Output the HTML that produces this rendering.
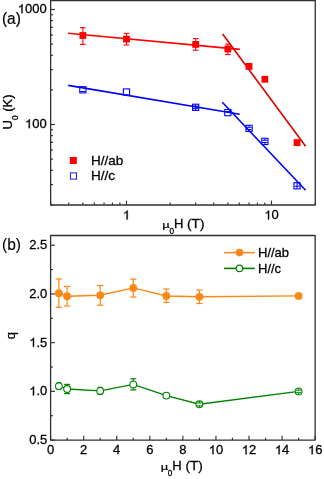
<!DOCTYPE html>
<html><head><meta charset="utf-8"><style>
html,body{margin:0;padding:0;background:#fff;}
body{width:324px;height:479px;overflow:hidden;}
svg{display:block;font-family:"Liberation Sans", sans-serif;will-change:transform;}
text{fill:#000;stroke:#000;stroke-width:0.3px;}
.h1{fill-opacity:0;stroke-opacity:0;}
</style></head><body>
<svg width="324" height="479" viewBox="0 0 324 479">
<line x1="50.65" y1="204.88" x2="53.05" y2="204.88" stroke="#303030" stroke-width="1.15" />
<line x1="50.65" y1="184.63" x2="53.05" y2="184.63" stroke="#303030" stroke-width="1.15" />
<line x1="50.65" y1="170.26" x2="53.05" y2="170.26" stroke="#303030" stroke-width="1.15" />
<line x1="50.65" y1="159.12" x2="53.05" y2="159.12" stroke="#303030" stroke-width="1.15" />
<line x1="50.65" y1="150.01" x2="53.05" y2="150.01" stroke="#303030" stroke-width="1.15" />
<line x1="50.65" y1="142.31" x2="53.05" y2="142.31" stroke="#303030" stroke-width="1.15" />
<line x1="50.65" y1="135.64" x2="53.05" y2="135.64" stroke="#303030" stroke-width="1.15" />
<line x1="50.65" y1="129.76" x2="53.05" y2="129.76" stroke="#303030" stroke-width="1.15" />
<line x1="50.65" y1="124.50" x2="54.95" y2="124.50" stroke="#303030" stroke-width="1.15" />
<line x1="50.65" y1="89.88" x2="53.05" y2="89.88" stroke="#303030" stroke-width="1.15" />
<line x1="50.65" y1="69.63" x2="53.05" y2="69.63" stroke="#303030" stroke-width="1.15" />
<line x1="50.65" y1="55.26" x2="53.05" y2="55.26" stroke="#303030" stroke-width="1.15" />
<line x1="50.65" y1="44.12" x2="53.05" y2="44.12" stroke="#303030" stroke-width="1.15" />
<line x1="50.65" y1="35.01" x2="53.05" y2="35.01" stroke="#303030" stroke-width="1.15" />
<line x1="50.65" y1="27.31" x2="53.05" y2="27.31" stroke="#303030" stroke-width="1.15" />
<line x1="50.65" y1="20.64" x2="53.05" y2="20.64" stroke="#303030" stroke-width="1.15" />
<line x1="50.65" y1="14.76" x2="53.05" y2="14.76" stroke="#303030" stroke-width="1.15" />
<line x1="50.65" y1="9.50" x2="54.95" y2="9.50" stroke="#303030" stroke-width="1.15" />
<line x1="50.68" y1="205.00" x2="50.68" y2="202.60" stroke="#303030" stroke-width="1.15" />
<line x1="68.80" y1="205.00" x2="68.80" y2="202.60" stroke="#303030" stroke-width="1.15" />
<line x1="82.85" y1="205.00" x2="82.85" y2="202.60" stroke="#303030" stroke-width="1.15" />
<line x1="94.33" y1="205.00" x2="94.33" y2="202.60" stroke="#303030" stroke-width="1.15" />
<line x1="104.04" y1="205.00" x2="104.04" y2="202.60" stroke="#303030" stroke-width="1.15" />
<line x1="112.45" y1="205.00" x2="112.45" y2="202.60" stroke="#303030" stroke-width="1.15" />
<line x1="119.87" y1="205.00" x2="119.87" y2="202.60" stroke="#303030" stroke-width="1.15" />
<line x1="126.50" y1="205.00" x2="126.50" y2="200.70" stroke="#303030" stroke-width="1.15" />
<line x1="170.15" y1="205.00" x2="170.15" y2="202.60" stroke="#303030" stroke-width="1.15" />
<line x1="195.68" y1="205.00" x2="195.68" y2="202.60" stroke="#303030" stroke-width="1.15" />
<line x1="213.80" y1="205.00" x2="213.80" y2="202.60" stroke="#303030" stroke-width="1.15" />
<line x1="227.85" y1="205.00" x2="227.85" y2="202.60" stroke="#303030" stroke-width="1.15" />
<line x1="239.33" y1="205.00" x2="239.33" y2="202.60" stroke="#303030" stroke-width="1.15" />
<line x1="249.04" y1="205.00" x2="249.04" y2="202.60" stroke="#303030" stroke-width="1.15" />
<line x1="257.45" y1="205.00" x2="257.45" y2="202.60" stroke="#303030" stroke-width="1.15" />
<line x1="264.87" y1="205.00" x2="264.87" y2="202.60" stroke="#303030" stroke-width="1.15" />
<line x1="271.50" y1="205.00" x2="271.50" y2="200.70" stroke="#303030" stroke-width="1.15" />
<line x1="315.15" y1="205.00" x2="315.15" y2="202.60" stroke="#303030" stroke-width="1.15" />
<line x1="68.00" y1="33.30" x2="239.90" y2="49.40" stroke="#ff0000" stroke-width="1.6" />
<line x1="222.60" y1="34.00" x2="305.60" y2="146.20" stroke="#dc0000" stroke-width="1.6" />
<line x1="68.20" y1="85.40" x2="239.70" y2="114.20" stroke="#0000ff" stroke-width="1.6" />
<line x1="222.30" y1="102.20" x2="305.60" y2="190.20" stroke="#0000ff" stroke-width="1.6" />
<line x1="82.85" y1="27.70" x2="82.85" y2="44.40" stroke="#ff0000" stroke-width="1.1" />
<line x1="80.05" y1="27.70" x2="85.65" y2="27.70" stroke="#ff0000" stroke-width="1.1" />
<line x1="80.05" y1="44.40" x2="85.65" y2="44.40" stroke="#ff0000" stroke-width="1.1" />
<rect x="79.45" y="32.10" width="6.8" height="6.8" fill="#ff0000"/>
<line x1="126.50" y1="33.40" x2="126.50" y2="45.00" stroke="#ff0000" stroke-width="1.1" />
<line x1="123.70" y1="33.40" x2="129.30" y2="33.40" stroke="#ff0000" stroke-width="1.1" />
<line x1="123.70" y1="45.00" x2="129.30" y2="45.00" stroke="#ff0000" stroke-width="1.1" />
<rect x="123.10" y="35.70" width="6.8" height="6.8" fill="#ff0000"/>
<line x1="195.68" y1="38.60" x2="195.68" y2="50.30" stroke="#ff0000" stroke-width="1.1" />
<line x1="192.88" y1="38.60" x2="198.48" y2="38.60" stroke="#ff0000" stroke-width="1.1" />
<line x1="192.88" y1="50.30" x2="198.48" y2="50.30" stroke="#ff0000" stroke-width="1.1" />
<rect x="192.28" y="41.00" width="6.8" height="6.8" fill="#ff0000"/>
<line x1="227.85" y1="44.10" x2="227.85" y2="54.60" stroke="#ff0000" stroke-width="1.1" />
<line x1="225.05" y1="44.10" x2="230.65" y2="44.10" stroke="#ff0000" stroke-width="1.1" />
<line x1="225.05" y1="54.60" x2="230.65" y2="54.60" stroke="#ff0000" stroke-width="1.1" />
<rect x="224.45" y="45.60" width="6.8" height="6.8" fill="#ff0000"/>
<rect x="245.64" y="63.00" width="6.8" height="6.8" fill="#ff0000"/>
<rect x="261.47" y="75.90" width="6.8" height="6.8" fill="#ff0000"/>
<rect x="293.63" y="139.20" width="6.8" height="6.8" fill="#ff0000"/>
<rect x="79.75" y="86.70" width="6.2" height="6.2" fill="none" stroke="#0000ff" stroke-width="1.1"/>
<line x1="80.25" y1="91.50" x2="85.45" y2="91.50" stroke="#0000ff" stroke-width="1.0" />
<rect x="123.40" y="88.90" width="6.2" height="6.2" fill="none" stroke="#0000ff" stroke-width="1.1"/>
<rect x="192.58" y="104.20" width="6.2" height="6.2" fill="none" stroke="#0000ff" stroke-width="1.1"/>
<line x1="195.68" y1="104.30" x2="195.68" y2="110.30" stroke="#0000ff" stroke-width="1.0" />
<line x1="193.08" y1="106.10" x2="198.28" y2="106.10" stroke="#0000ff" stroke-width="1.0" />
<line x1="193.08" y1="108.60" x2="198.28" y2="108.60" stroke="#0000ff" stroke-width="1.0" />
<rect x="224.75" y="109.50" width="6.2" height="6.2" fill="none" stroke="#0000ff" stroke-width="1.1"/>
<line x1="225.25" y1="111.60" x2="230.45" y2="111.60" stroke="#0000ff" stroke-width="1.0" />
<rect x="245.94" y="125.30" width="6.2" height="6.2" fill="none" stroke="#0000ff" stroke-width="1.1"/>
<line x1="246.44" y1="127.30" x2="251.64" y2="127.30" stroke="#0000ff" stroke-width="1.0" />
<line x1="246.44" y1="129.50" x2="251.64" y2="129.50" stroke="#0000ff" stroke-width="1.0" />
<line x1="249.04" y1="125.40" x2="249.04" y2="127.30" stroke="#0000ff" stroke-width="1.0" />
<line x1="249.04" y1="129.50" x2="249.04" y2="131.40" stroke="#0000ff" stroke-width="1.0" />
<rect x="261.77" y="138.30" width="6.2" height="6.2" fill="none" stroke="#0000ff" stroke-width="1.1"/>
<line x1="262.27" y1="140.30" x2="267.47" y2="140.30" stroke="#0000ff" stroke-width="1.0" />
<line x1="262.27" y1="142.50" x2="267.47" y2="142.50" stroke="#0000ff" stroke-width="1.0" />
<line x1="264.87" y1="138.40" x2="264.87" y2="140.30" stroke="#0000ff" stroke-width="1.0" />
<line x1="264.87" y1="142.50" x2="264.87" y2="144.40" stroke="#0000ff" stroke-width="1.0" />
<rect x="293.93" y="182.70" width="6.2" height="6.2" fill="none" stroke="#0000ff" stroke-width="1.1"/>
<line x1="294.43" y1="186.20" x2="299.63" y2="186.20" stroke="#0000ff" stroke-width="1.0" />
<line x1="297.03" y1="182.80" x2="297.03" y2="188.80" stroke="#0000ff" stroke-width="1.0" />
<rect x="69.80" y="157.00" width="7" height="7" fill="#ff0000"/>
<rect x="70.40" y="172.90" width="6.2" height="6.2" fill="none" stroke="#0000ff" stroke-width="0.9"/>
<text x="91.00" y="165.00" font-size="13.5" text-anchor="start" >H//ab</text>
<text x="91.00" y="180.20" font-size="13.5" text-anchor="start" >H//c</text>
<path d="M50.65,0.6 L315.25,0.6 L315.25,205.0 L50.65,205.0 Z" fill="none" stroke="#303030" stroke-width="1.3" stroke-linejoin="round"/>
<text id="t0" x="46.70" y="13.20" font-size="13" text-anchor="end" ><tspan class="h1">1</tspan>000</text>
<text id="t1" x="46.70" y="128.20" font-size="13" text-anchor="end" ><tspan class="h1">1</tspan>00</text>
<text id="t2" x="126.50" y="219.40" font-size="13" text-anchor="middle" ><tspan class="h1">1</tspan></text>
<text id="t3" x="271.50" y="219.40" font-size="13" text-anchor="middle" ><tspan class="h1">1</tspan>0</text>
<text transform="translate(162.30,228.20) scale(1,0.72)" font-size="13">&#181;</text>
<text x="169.40" y="233.60" font-size="8.2">0</text>
<text x="173.90" y="228.20" font-size="13">H</text>
<text x="187.10" y="228.20" font-size="13.6">(T)</text>
<text transform="translate(12.4,129.4) rotate(-90)" font-size="13">U<tspan font-size="8.2" dy="5.3">0</tspan><tspan dy="-5.3"> (K)</tspan></text>
<text transform="translate(1.9,23.9) scale(1,1.06)" font-size="15.5" style="stroke-width:0.2px">(a)</text>
<line x1="50.60" y1="440.05" x2="54.90" y2="440.05" stroke="#303030" stroke-width="1.15" />
<line x1="50.60" y1="415.70" x2="53.00" y2="415.70" stroke="#303030" stroke-width="1.15" />
<line x1="50.60" y1="391.35" x2="54.90" y2="391.35" stroke="#303030" stroke-width="1.15" />
<line x1="50.60" y1="367.00" x2="53.00" y2="367.00" stroke="#303030" stroke-width="1.15" />
<line x1="50.60" y1="342.65" x2="54.90" y2="342.65" stroke="#303030" stroke-width="1.15" />
<line x1="50.60" y1="318.29" x2="53.00" y2="318.29" stroke="#303030" stroke-width="1.15" />
<line x1="50.60" y1="293.94" x2="54.90" y2="293.94" stroke="#303030" stroke-width="1.15" />
<line x1="50.60" y1="269.59" x2="53.00" y2="269.59" stroke="#303030" stroke-width="1.15" />
<line x1="50.60" y1="245.24" x2="54.90" y2="245.24" stroke="#303030" stroke-width="1.15" />
<line x1="50.60" y1="440.05" x2="50.60" y2="435.75" stroke="#303030" stroke-width="1.15" />
<line x1="67.13" y1="440.05" x2="67.13" y2="437.65" stroke="#303030" stroke-width="1.15" />
<line x1="83.67" y1="440.05" x2="83.67" y2="435.75" stroke="#303030" stroke-width="1.15" />
<line x1="100.20" y1="440.05" x2="100.20" y2="437.65" stroke="#303030" stroke-width="1.15" />
<line x1="116.74" y1="440.05" x2="116.74" y2="435.75" stroke="#303030" stroke-width="1.15" />
<line x1="133.27" y1="440.05" x2="133.27" y2="437.65" stroke="#303030" stroke-width="1.15" />
<line x1="149.81" y1="440.05" x2="149.81" y2="435.75" stroke="#303030" stroke-width="1.15" />
<line x1="166.34" y1="440.05" x2="166.34" y2="437.65" stroke="#303030" stroke-width="1.15" />
<line x1="182.87" y1="440.05" x2="182.87" y2="435.75" stroke="#303030" stroke-width="1.15" />
<line x1="199.41" y1="440.05" x2="199.41" y2="437.65" stroke="#303030" stroke-width="1.15" />
<line x1="215.94" y1="440.05" x2="215.94" y2="435.75" stroke="#303030" stroke-width="1.15" />
<line x1="232.48" y1="440.05" x2="232.48" y2="437.65" stroke="#303030" stroke-width="1.15" />
<line x1="249.01" y1="440.05" x2="249.01" y2="435.75" stroke="#303030" stroke-width="1.15" />
<line x1="265.55" y1="440.05" x2="265.55" y2="437.65" stroke="#303030" stroke-width="1.15" />
<line x1="282.08" y1="440.05" x2="282.08" y2="435.75" stroke="#303030" stroke-width="1.15" />
<line x1="298.62" y1="440.05" x2="298.62" y2="437.65" stroke="#303030" stroke-width="1.15" />
<line x1="315.15" y1="440.05" x2="315.15" y2="435.75" stroke="#303030" stroke-width="1.15" />
<polyline points="58.87,293.20 67.13,296.20 100.20,295.30 133.27,287.90 166.34,296.00 199.41,296.80 298.62,295.90" fill="none" stroke="#fb8716" stroke-width="1.4"/>
<line x1="58.87" y1="279.00" x2="58.87" y2="307.30" stroke="#fb8716" stroke-width="1.2" />
<line x1="55.67" y1="279.00" x2="62.07" y2="279.00" stroke="#fb8716" stroke-width="1.2" />
<line x1="55.67" y1="307.30" x2="62.07" y2="307.30" stroke="#fb8716" stroke-width="1.2" />
<circle cx="58.87" cy="293.20" r="3.9" fill="#fb8716"/>
<line x1="67.13" y1="286.40" x2="67.13" y2="306.00" stroke="#fb8716" stroke-width="1.2" />
<line x1="63.93" y1="286.40" x2="70.33" y2="286.40" stroke="#fb8716" stroke-width="1.2" />
<line x1="63.93" y1="306.00" x2="70.33" y2="306.00" stroke="#fb8716" stroke-width="1.2" />
<circle cx="67.13" cy="296.20" r="3.9" fill="#fb8716"/>
<line x1="100.20" y1="285.50" x2="100.20" y2="305.20" stroke="#fb8716" stroke-width="1.2" />
<line x1="97.00" y1="285.50" x2="103.40" y2="285.50" stroke="#fb8716" stroke-width="1.2" />
<line x1="97.00" y1="305.20" x2="103.40" y2="305.20" stroke="#fb8716" stroke-width="1.2" />
<circle cx="100.20" cy="295.30" r="3.9" fill="#fb8716"/>
<line x1="133.27" y1="279.10" x2="133.27" y2="297.00" stroke="#fb8716" stroke-width="1.2" />
<line x1="130.07" y1="279.10" x2="136.47" y2="279.10" stroke="#fb8716" stroke-width="1.2" />
<line x1="130.07" y1="297.00" x2="136.47" y2="297.00" stroke="#fb8716" stroke-width="1.2" />
<circle cx="133.27" cy="287.90" r="3.9" fill="#fb8716"/>
<line x1="166.34" y1="289.00" x2="166.34" y2="302.40" stroke="#fb8716" stroke-width="1.2" />
<line x1="163.14" y1="289.00" x2="169.54" y2="289.00" stroke="#fb8716" stroke-width="1.2" />
<line x1="163.14" y1="302.40" x2="169.54" y2="302.40" stroke="#fb8716" stroke-width="1.2" />
<circle cx="166.34" cy="296.00" r="3.9" fill="#fb8716"/>
<line x1="199.41" y1="290.10" x2="199.41" y2="303.50" stroke="#fb8716" stroke-width="1.2" />
<line x1="196.21" y1="290.10" x2="202.61" y2="290.10" stroke="#fb8716" stroke-width="1.2" />
<line x1="196.21" y1="303.50" x2="202.61" y2="303.50" stroke="#fb8716" stroke-width="1.2" />
<circle cx="199.41" cy="296.80" r="3.9" fill="#fb8716"/>
<circle cx="298.62" cy="295.90" r="3.9" fill="#fb8716"/>
<polyline points="58.87,386.10 67.13,389.00 100.20,390.90 133.27,384.40 166.34,395.60 199.41,404.30 298.62,391.40" fill="none" stroke="#008000" stroke-width="1.4"/>
<circle cx="58.87" cy="386.10" r="3.4" fill="#fff" stroke="#008000" stroke-width="1.1"/>
<line x1="56.67" y1="382.70" x2="61.07" y2="382.70" stroke="#008000" stroke-width="1.1" />
<line x1="56.67" y1="389.50" x2="61.07" y2="389.50" stroke="#008000" stroke-width="1.1" />
<line x1="67.13" y1="384.40" x2="67.13" y2="393.60" stroke="#008000" stroke-width="1.1" />
<line x1="64.13" y1="384.40" x2="70.13" y2="384.40" stroke="#008000" stroke-width="1.2" />
<line x1="64.13" y1="393.60" x2="70.13" y2="393.60" stroke="#008000" stroke-width="1.2" />
<circle cx="67.13" cy="389.00" r="3.4" fill="#fff" stroke="#008000" stroke-width="1.1"/>
<circle cx="100.20" cy="390.90" r="3.4" fill="#fff" stroke="#008000" stroke-width="1.1"/>
<line x1="97.80" y1="387.40" x2="102.60" y2="387.40" stroke="#008000" stroke-width="1.2" />
<line x1="97.80" y1="394.40" x2="102.60" y2="394.40" stroke="#008000" stroke-width="1.2" />
<line x1="133.27" y1="378.80" x2="133.27" y2="389.90" stroke="#008000" stroke-width="1.1" />
<line x1="130.27" y1="378.80" x2="136.27" y2="378.80" stroke="#008000" stroke-width="1.2" />
<line x1="130.27" y1="389.90" x2="136.27" y2="389.90" stroke="#008000" stroke-width="1.2" />
<circle cx="133.27" cy="384.40" r="3.4" fill="#fff" stroke="#008000" stroke-width="1.1"/>
<circle cx="166.34" cy="395.60" r="3.4" fill="#fff" stroke="#008000" stroke-width="1.1"/>
<circle cx="199.41" cy="404.30" r="3.4" fill="#fff" stroke="#008000" stroke-width="1.1"/>
<line x1="196.81" y1="403.00" x2="202.01" y2="403.00" stroke="#008000" stroke-width="1.0" />
<line x1="196.81" y1="405.80" x2="202.01" y2="405.80" stroke="#008000" stroke-width="1.0" />
<line x1="199.41" y1="401.10" x2="199.41" y2="403.00" stroke="#008000" stroke-width="1.0" />
<line x1="199.41" y1="405.80" x2="199.41" y2="407.50" stroke="#008000" stroke-width="1.0" />
<circle cx="298.62" cy="391.40" r="3.4" fill="#fff" stroke="#008000" stroke-width="1.1"/>
<line x1="296.02" y1="390.20" x2="301.22" y2="390.20" stroke="#008000" stroke-width="1.0" />
<line x1="296.02" y1="392.70" x2="301.22" y2="392.70" stroke="#008000" stroke-width="1.0" />
<line x1="298.62" y1="388.20" x2="298.62" y2="390.20" stroke="#008000" stroke-width="1.0" />
<line x1="298.62" y1="392.70" x2="298.62" y2="394.60" stroke="#008000" stroke-width="1.0" />
<line x1="224.00" y1="252.60" x2="254.80" y2="252.60" stroke="#fb8716" stroke-width="1.6" />
<circle cx="239.5" cy="252.6" r="3.8" fill="#fb8716"/>
<line x1="224.00" y1="268.40" x2="254.80" y2="268.40" stroke="#008000" stroke-width="1.6" />
<circle cx="239.5" cy="268.4" r="3.2" fill="#fff" stroke="#008000" stroke-width="1.2"/>
<text x="258.00" y="256.90" font-size="13" text-anchor="start" >H//ab</text>
<text x="258.00" y="273.00" font-size="13" text-anchor="start" >H//c</text>
<path d="M50.6,235.5 L315.15,235.5 L315.15,440.05 L50.6,440.05 Z" fill="none" stroke="#303030" stroke-width="1.3" stroke-linejoin="round"/>
<text x="47.30" y="444.15" font-size="13" text-anchor="end" >0.5</text>
<text id="t4" x="47.30" y="395.45" font-size="13" text-anchor="end" ><tspan class="h1">1</tspan>.0</text>
<text id="t5" x="47.30" y="346.75" font-size="13" text-anchor="end" ><tspan class="h1">1</tspan>.5</text>
<text x="47.30" y="298.04" font-size="13" text-anchor="end" >2.0</text>
<text x="47.30" y="249.34" font-size="13" text-anchor="end" >2.5</text>
<text x="50.60" y="454.30" font-size="13" text-anchor="middle" >0</text>
<text x="83.67" y="454.30" font-size="13" text-anchor="middle" >2</text>
<text x="116.74" y="454.30" font-size="13" text-anchor="middle" >4</text>
<text x="149.81" y="454.30" font-size="13" text-anchor="middle" >6</text>
<text x="182.87" y="454.30" font-size="13" text-anchor="middle" >8</text>
<text id="t6" x="215.94" y="454.30" font-size="13" text-anchor="middle" ><tspan class="h1">1</tspan>0</text>
<text id="t7" x="249.01" y="454.30" font-size="13" text-anchor="middle" ><tspan class="h1">1</tspan>2</text>
<text id="t8" x="282.08" y="454.30" font-size="13" text-anchor="middle" ><tspan class="h1">1</tspan>4</text>
<text id="t9" x="315.15" y="454.30" font-size="13" text-anchor="middle" ><tspan class="h1">1</tspan>6</text>
<text transform="translate(160.70,470.40) scale(1,0.72)" font-size="13">&#181;</text>
<text x="167.80" y="475.80" font-size="8.2">0</text>
<text x="172.30" y="470.40" font-size="13">H</text>
<text x="185.50" y="470.40" font-size="13.6">(T)</text>
<text transform="translate(14.6,335.6) rotate(-90)" font-size="13" text-anchor="middle">q</text>
<text transform="translate(2.0,249.5) scale(1,1.03)" font-size="15.5" style="stroke-width:0.1px">(b)</text>
<path transform="translate(17.76,13.20) scale(0.006348,-0.006348)" d="M583,0 L763,0 L763,1409 L650,1409 C610,1330 540,1245 450,1175 C380,1120 300,1080 222,1052 L222,882 C310,912 420,968 500,1030 C540,1062 568,1090 583,1105 Z" fill="#000" stroke="#000" stroke-width="47.3"/>
<path transform="translate(25.00,128.20) scale(0.006348,-0.006348)" d="M583,0 L763,0 L763,1409 L650,1409 C610,1330 540,1245 450,1175 C380,1120 300,1080 222,1052 L222,882 C310,912 420,968 500,1030 C540,1062 568,1090 583,1105 Z" fill="#000" stroke="#000" stroke-width="47.3"/>
<path transform="translate(122.88,219.40) scale(0.006348,-0.006348)" d="M583,0 L763,0 L763,1409 L650,1409 C610,1330 540,1245 450,1175 C380,1120 300,1080 222,1052 L222,882 C310,912 420,968 500,1030 C540,1062 568,1090 583,1105 Z" fill="#000" stroke="#000" stroke-width="47.3"/>
<path transform="translate(264.27,219.40) scale(0.006348,-0.006348)" d="M583,0 L763,0 L763,1409 L650,1409 C610,1330 540,1245 450,1175 C380,1120 300,1080 222,1052 L222,882 C310,912 420,968 500,1030 C540,1062 568,1090 583,1105 Z" fill="#000" stroke="#000" stroke-width="47.3"/>
<path transform="translate(29.22,395.45) scale(0.006348,-0.006348)" d="M583,0 L763,0 L763,1409 L650,1409 C610,1330 540,1245 450,1175 C380,1120 300,1080 222,1052 L222,882 C310,912 420,968 500,1030 C540,1062 568,1090 583,1105 Z" fill="#000" stroke="#000" stroke-width="47.3"/>
<path transform="translate(29.22,346.75) scale(0.006348,-0.006348)" d="M583,0 L763,0 L763,1409 L650,1409 C610,1330 540,1245 450,1175 C380,1120 300,1080 222,1052 L222,882 C310,912 420,968 500,1030 C540,1062 568,1090 583,1105 Z" fill="#000" stroke="#000" stroke-width="47.3"/>
<path transform="translate(208.71,454.30) scale(0.006348,-0.006348)" d="M583,0 L763,0 L763,1409 L650,1409 C610,1330 540,1245 450,1175 C380,1120 300,1080 222,1052 L222,882 C310,912 420,968 500,1030 C540,1062 568,1090 583,1105 Z" fill="#000" stroke="#000" stroke-width="47.3"/>
<path transform="translate(241.78,454.30) scale(0.006348,-0.006348)" d="M583,0 L763,0 L763,1409 L650,1409 C610,1330 540,1245 450,1175 C380,1120 300,1080 222,1052 L222,882 C310,912 420,968 500,1030 C540,1062 568,1090 583,1105 Z" fill="#000" stroke="#000" stroke-width="47.3"/>
<path transform="translate(274.85,454.30) scale(0.006348,-0.006348)" d="M583,0 L763,0 L763,1409 L650,1409 C610,1330 540,1245 450,1175 C380,1120 300,1080 222,1052 L222,882 C310,912 420,968 500,1030 C540,1062 568,1090 583,1105 Z" fill="#000" stroke="#000" stroke-width="47.3"/>
<path transform="translate(307.92,454.30) scale(0.006348,-0.006348)" d="M583,0 L763,0 L763,1409 L650,1409 C610,1330 540,1245 450,1175 C380,1120 300,1080 222,1052 L222,882 C310,912 420,968 500,1030 C540,1062 568,1090 583,1105 Z" fill="#000" stroke="#000" stroke-width="47.3"/>
</svg>
</body></html>
